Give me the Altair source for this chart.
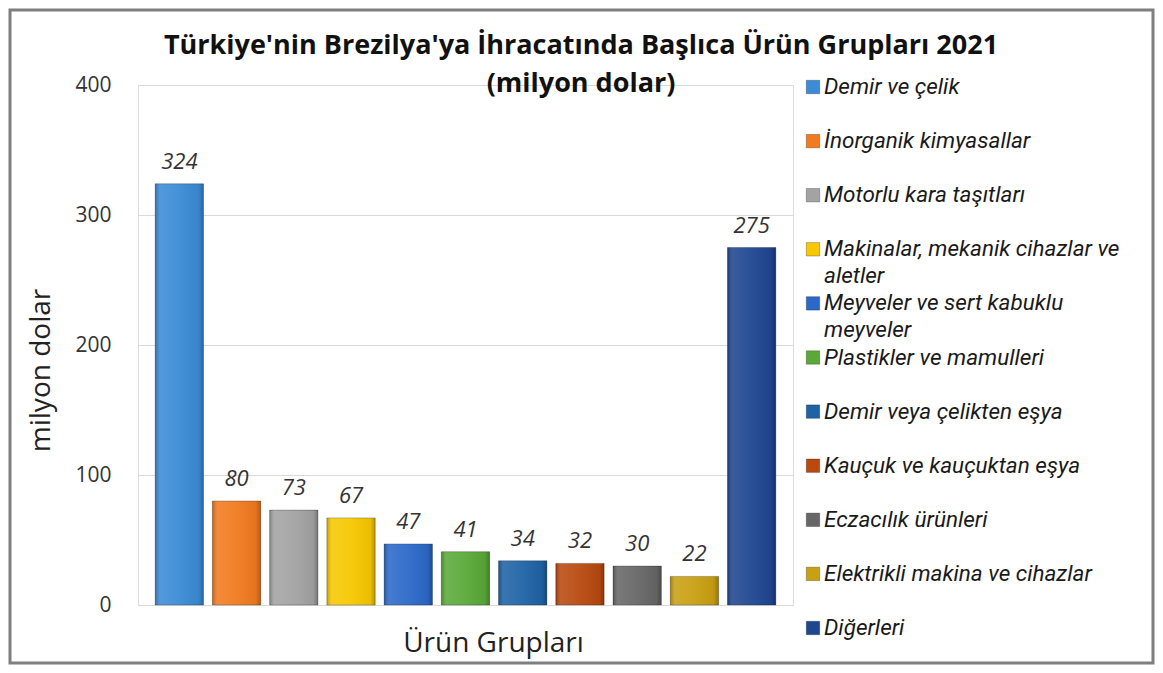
import altair as alt
import pandas as pd

title_lines = ["Türkiye'nin Brezilya'ya İhracatında Başlıca Ürün Grupları 2021", "(milyon dolar)"]
categories = [
    "Demir ve çelik",
    "İnorganik kimyasallar",
    "Motorlu kara taşıtları",
    "Makinalar, mekanik cihazlar ve aletler",
    "Meyveler ve sert kabuklu meyveler",
    "Plastikler ve mamulleri",
    "Demir veya çelikten eşya",
    "Kauçuk ve kauçuktan eşya",
    "Eczacılık ürünleri",
    "Elektrikli makina ve cihazlar",
    "Diğerleri",
]
values = [324, 80, 73, 67, 47, 41, 34, 32, 30, 22, 275]
legend_labels = [
    "Demir ve çelik",
    "İnorganik kimyasallar",
    "Motorlu kara taşıtları",
    "Makinalar, mekanik cihazlar ve\naletler",
    "Meyveler ve sert kabuklu\nmeyveler",
    "Plastikler ve mamulleri",
    "Demir veya çelikten eşya",
    "Kauçuk ve kauçuktan eşya",
    "Eczacılık ürünleri",
    "Elektrikli makina ve cihazlar",
    "Diğerleri",
]
colors = [
    "#3b8bd6", "#f27a1f", "#a3a3a3", "#f7c800", "#2b69c9", "#5aa938",
    "#1f63a6", "#b9490f", "#676767", "#c9a012", "#1f4691",
]
y_ticks = [0, 100, 200, 300, 400]

df = pd.DataFrame({"cat": categories, "value": values, "label": legend_labels})

W, H = 655, 520
FONT = "Open Sans"
LEG_FONT = "Roboto"

color = alt.Color("cat:N", scale=alt.Scale(domain=categories, range=colors), legend=None)

base = alt.Chart(df)

x_enc = alt.X(
    "cat:N",
    sort=categories,
    scale=alt.Scale(paddingInner=0.155, paddingOuter=0.3),
    axis=alt.Axis(
        title="Ürün Grupları", labels=False, ticks=False, domain=False,
        titleFontSize=28, titleFont=FONT, titleFontWeight="normal", titleColor="#222",
        titleX=355, titleY=46, titleBaseline="alphabetic",
    ),
)
y_enc = alt.Y(
    "value:Q",
    scale=alt.Scale(domain=[0, 400]),
    axis=alt.Axis(
        values=y_ticks, title="milyon dolar", ticks=False, domain=False,
        gridColor="#d9d9d9", gridWidth=1,
        labelFontSize=21, labelFont=FONT, labelColor="#333", labelPadding=27,
        titleFontSize=28, titleFont=FONT, titleFontWeight="normal", titleColor="#222",
        titleX=-89, titleY=285, titleAngle=-90, titleBaseline="alphabetic",
    ),
)

bars = base.mark_bar(stroke="#00000040", strokeWidth=1).encode(x=x_enc, y=y_enc, color=color)

# bevel-like shading overlay on the same bars
shade = base.mark_bar(
    color=alt.Gradient(
        gradient="linear", x1=0, x2=1, y1=0, y2=0,
        stops=[
            alt.GradientStop(offset=0, color="rgba(0,0,0,0.22)"),
            alt.GradientStop(offset=0.1, color="rgba(255,255,255,0.12)"),
            alt.GradientStop(offset=0.5, color="rgba(255,255,255,0.05)"),
            alt.GradientStop(offset=0.9, color="rgba(0,0,0,0.05)"),
            alt.GradientStop(offset=1, color="rgba(0,0,0,0.28)"),
        ],
    )
).encode(x=alt.X("cat:N", sort=categories), y=alt.Y("value:Q"))

labels = base.mark_text(
    baseline="alphabetic", dy=-15, fontSize=22, fontStyle="italic", font=FONT, color="#333"
).encode(
    x=alt.X("cat:N", sort=categories),
    y=alt.Y("value:Q"),
    text=alt.Text("value:Q"),
)

main = alt.layer(bars, shade, labels)

leg_y = alt.Y("cat:N", sort=categories, scale=alt.Scale(type="point", range=[2, 543], padding=0), axis=None)
leg_sq = base.mark_square(size=180, opacity=1, stroke="#00000040", strokeWidth=1).encode(
    x=alt.value(675), y=leg_y, color=color
)
leg_txt = base.mark_text(
    align="left", baseline="alphabetic", dy=7, fontSize=22.5, fontStyle="italic", font=LEG_FONT,
    color="#1a1a1a", lineBreak="\n", lineHeight=26.5,
).encode(x=alt.value(686), y=leg_y, text="label:N")

title_df = pd.DataFrame({"t": title_lines, "row": [0, 1]})
title = alt.Chart(title_df).mark_text(
    align="center", baseline="alphabetic", fontSize=27, fontWeight="bold", font=FONT, color="#111"
).encode(
    x=alt.value(443),
    y=alt.Y("row:O", scale=alt.Scale(type="point", domain=[0, 1], range=[-31, 7], padding=0), axis=None),
    text="t:N",
)

frame = alt.Chart(pd.DataFrame({"f": [0]})).mark_rect(
    filled=False, stroke="#7f7f7f", strokeWidth=3
).encode(
    x=alt.value(-128), x2=alt.value(1015), y=alt.value(-75), y2=alt.value(578)
)

chart = alt.layer(main, leg_sq, leg_txt, title, frame).resolve_scale(y="independent").properties(
    width=W,
    height=H,
    autosize=alt.AutoSizeParams(type="none"),
    padding={"left": 130, "top": 77, "right": 362, "bottom": 60},
).configure_view(stroke=None).configure(background="white")

chart.save("out.html", embed_options={"renderer": "svg", "actions": False})
